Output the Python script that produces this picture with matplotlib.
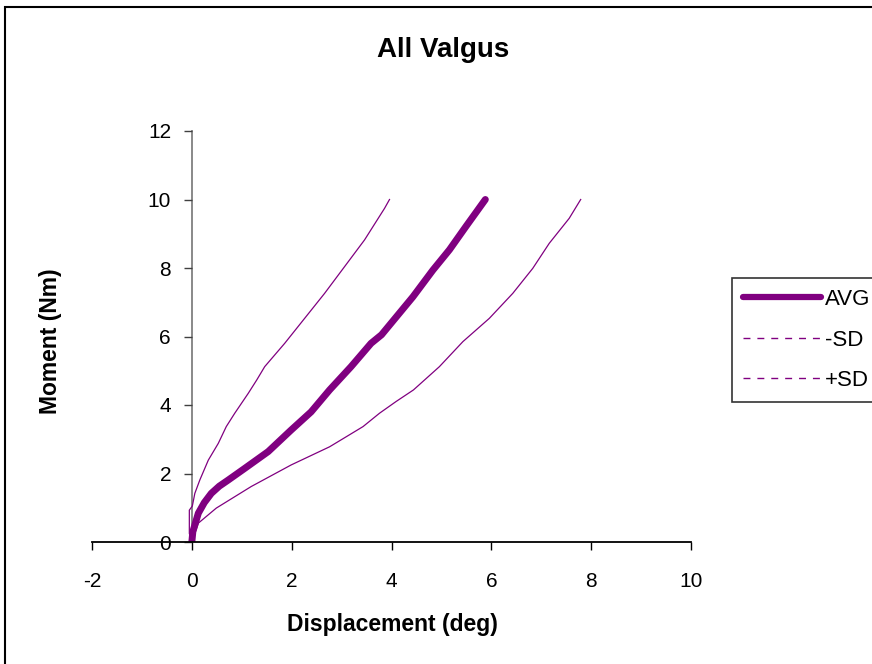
import matplotlib.pyplot as plt
from matplotlib.lines import Line2D
from matplotlib.patches import Rectangle

plt.rcParams["font.family"] = ["Liberation Sans", "DejaVu Sans"]
plt.rcParams["axes.unicode_minus"] = False

# Moment (Nm) vs displacement (deg)
avg_x = [0, 0.02, 0.13, 0.25, 0.39, 0.55, 0.73, 1.06, 1.53, 1.99, 2.39, 2.76,
         3.19, 3.59, 3.8, 4.43, 4.83, 5.16, 5.49, 5.88]
avg_y = [0, 0.3, 0.84, 1.15, 1.42, 1.63, 1.81, 2.15, 2.64, 3.27, 3.80, 4.44,
         5.12, 5.80, 6.05, 7.16, 7.94, 8.53, 9.21, 10.0]

minus_x = [0, -0.05, -0.05, 0.01, 0.06, 0.16, 0.33, 0.53, 0.69, 0.86, 1.13,
           1.30, 1.46, 1.86, 2.26, 2.66, 3.06, 3.46, 3.86, 3.96]
minus_y = [0, 0.25, 0.93, 1.05, 1.42, 1.81, 2.39, 2.88, 3.37, 3.76, 4.34,
           4.73, 5.12, 5.80, 6.53, 7.26, 8.04, 8.82, 9.74, 10.0]

plus_x = [0, 0.13, 0.49, 1.19, 1.99, 2.76, 3.09, 3.43, 3.76, 4.09, 4.44,
          4.96, 5.43, 5.96, 6.43, 6.83, 7.16, 7.56, 7.79]
plus_y = [0, 0.55, 0.99, 1.62, 2.25, 2.78, 3.07, 3.37, 3.76, 4.10, 4.44,
          5.12, 5.85, 6.53, 7.26, 7.99, 8.72, 9.45, 10.0]

series_names = ["AVG", "-SD", "+SD"]
purple = "#800080"

fig = plt.figure(figsize=(8.72, 6.64), dpi=100)
ax = fig.add_axes([92 / 872, 1 - 542 / 664, 599 / 872, 411 / 664])

ax.plot(minus_x, minus_y, color=purple, lw=0.9)
ax.plot(plus_x, plus_y, color=purple, lw=0.9)
ax.plot(avg_x, avg_y, color=purple, lw=5, solid_capstyle="round",
        solid_joinstyle="round")

ax.set_xlim(-2, 10)
ax.set_ylim(0, 12)
ax.set_xticks(range(-2, 11, 2))
ax.set_yticks(range(0, 13, 2))

# excel style axes crossing at zero
ax.spines["top"].set_visible(False)
ax.spines["right"].set_visible(False)
ax.spines["left"].set_position(("data", 0))
ax.spines["bottom"].set_position(("data", 0))
ax.spines["left"].set_color("#808080")
ax.spines["left"].set_linewidth(1.3)
ax.spines["bottom"].set_linewidth(1.3)
ax.spines["left"].set_zorder(1)

ax.tick_params(axis="x", direction="out", length=6, width=1, pad=15.5,
               labelsize=15)
ax.tick_params(axis="y", direction="out", length=6, width=1, pad=9,
               labelsize=15, color="#404040")

fig.text(0.508, 1 - 50 / 664, "All Valgus", ha="center", va="center",
         fontsize=20, fontweight="bold")
fig.text(392 / 872, 1 - 625 / 664, "Displacement (deg)", ha="center",
         va="center", fontsize=16.5, fontweight="bold")
fig.text(50 / 872, 1 - 341 / 664, "Moment (Nm)", ha="center", va="center",
         rotation=90, fontsize=16.5, fontweight="bold")

handles = [
    Line2D([], [], color=purple, lw=4.5, solid_capstyle="round"),
    Line2D([], [], color=purple, lw=1, ls=(0, (5, 5))),
    Line2D([], [], color=purple, lw=1, ls=(0, (5, 5))),
]
leg = fig.legend(handles, series_names, loc="upper left",
                 bbox_to_anchor=(732 / 872, 1 - 278 / 664), fontsize=16,
                 frameon=True, fancybox=False, edgecolor="black",
                 handlelength=3.5, handletextpad=0.2, labelspacing=0.88,
                 borderpad=0.5, borderaxespad=0)
leg.get_frame().set_linewidth(1.2)

# outer chart border (partly outside the picture)
fig.patches.append(Rectangle((5 / 872, -0.1), 1.2, 1.1 - 7 / 664,
                             transform=fig.transFigure, fill=False,
                             edgecolor="black", lw=1.5))

fig.savefig("out.png", dpi=100)
